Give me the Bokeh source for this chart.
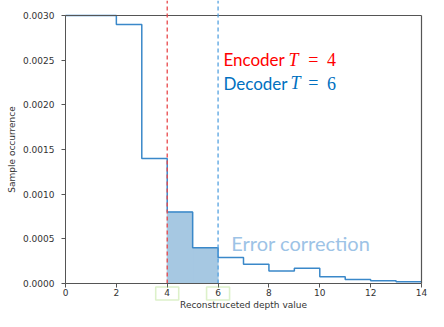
import numpy as np
from bokeh.plotting import figure
from bokeh.models import (Label, FixedTicker, PrintfTickFormatter, PolyAnnotation)
from bokeh.embed import file_html
from bokeh.resources import INLINE

# ---- data ----
bin_edges = [0, 1, 2, 3, 4, 5, 6, 7, 8, 9, 10, 11, 12, 13, 14]
occurrence = [0.0060, 0.0048, 0.0029, 0.0014, 0.0008, 0.0004, 0.00029,
              0.000215, 0.00014, 0.00017, 0.000075, 0.000045, 0.00003, 0.00002]
encoder_T = 4
decoder_T = 6
x_ticks = [0, 2, 4, 6, 8, 10, 12, 14]
y_ticks = [0.0, 0.0005, 0.0010, 0.0015, 0.0020, 0.0025, 0.0030]
x_axis_max = 14
y_axis_max = 0.0030

# ---- layout geometry (canvas pixels) ----
W, H = 428, 311
X_ZERO, X_MAX = 65, 421      # canvas columns of x = 0 and x = 14
Y_TOP_TICK, Y_ZERO = 15, 283 # canvas rows of y = 0.0030 and y = 0
px_per_x = (X_MAX - X_ZERO) / x_axis_max
px_per_y = (Y_ZERO - Y_TOP_TICK) / y_axis_max
x_view = (-X_ZERO / px_per_x, (W - X_ZERO) / px_per_x)
y_view = (-(H - Y_ZERO) / px_per_y, Y_ZERO / px_per_y)

p = figure(width=W, height=H, x_range=x_view, y_range=y_view,
           output_backend="svg", toolbar_location=None,
           min_border_left=0, min_border_right=0,
           min_border_top=0, min_border_bottom=0)
p.outline_line_color = None
p.grid.visible = False
p.background_fill_color = "white"

clipped = list(np.minimum(occurrence, y_axis_max))

i0 = bin_edges.index(encoder_T)
i1 = bin_edges.index(decoder_T)
p.quad(left=bin_edges[i0:i1], right=bin_edges[i0 + 1:i1 + 1], bottom=0,
       top=occurrence[i0:i1], fill_color="#a6c8e2", line_color="#a6c8e2", line_width=1)

p.step(x=bin_edges, y=clipped + [clipped[-1]], mode="after",
       line_color="#3a88c9", line_width=1.5)

# top / right spines
p.line(x=[0, x_axis_max], y=[y_axis_max, y_axis_max], line_color="#555555", line_width=1.2)
p.line(x=[x_axis_max, x_axis_max], y=[0, y_axis_max], line_color="#555555", line_width=1.2)

# threshold lines (from the x axis up through the top of the picture)
p.segment(x0=[encoder_T], y0=[0], x1=[encoder_T], y1=[y_view[1]],
          line_color="#e8474a", line_dash="4 3", line_width=1.3)
p.segment(x0=[decoder_T], y0=[0], x1=[decoder_T], y1=[y_view[1]],
          line_color="#55a2e0", line_dash="4 3", line_width=1.3)

for ax in (p.xaxis[0], p.yaxis[0]):
    ax.fixed_location = 0
    ax.axis_line_color = "#555555"
    ax.major_tick_line_color = "#555555"
    ax.minor_tick_line_color = None
    ax.major_tick_in = 0
    ax.major_tick_out = 4
    ax.major_label_text_font = "DejaVu Sans"
    ax.major_label_text_font_size = "9px"
    ax.major_label_text_color = "#333333"
    ax.axis_label_text_font = "DejaVu Sans"
    ax.axis_label_text_font_size = "9px"
    ax.axis_label_text_font_style = "normal"
    ax.axis_label_text_color = "#333333"

p.xaxis.ticker = FixedTicker(ticks=x_ticks)
p.xaxis.bounds = (0, x_axis_max)
p.xaxis.major_label_standoff = 1
p.xaxis.axis_label = "Reconstruceted depth value"
p.xaxis.axis_label_standoff = 1

p.yaxis.ticker = FixedTicker(ticks=y_ticks)
p.yaxis.formatter = PrintfTickFormatter(format="%.4f")
p.yaxis.bounds = (0, y_axis_max)
p.yaxis.major_label_standoff = 7
p.yaxis.axis_label = "Sample occurrence"
p.yaxis.axis_label_standoff = 3

# green boxes around the two threshold tick labels
bx = 11.5 / px_per_x
for t in (encoder_T, decoder_T):
    ytop, ybot = -3.5 / px_per_y, -16.5 / px_per_y
    p.add_layout(PolyAnnotation(xs=[t - bx, t + bx, t + bx, t - bx],
                                ys=[ytop, ytop, ybot, ybot],
                                xs_units="data", ys_units="data",
                                fill_color=None, fill_alpha=0,
                                line_color="#8fd14f", line_width=1.6))

# annotations (positions in data units)
x_text = 6.21
rows = [("Encoder", "4", "#ff0000", 0.002505, 65),
        ("Decoder", "6", "#0070c0", 0.00224, 67)]
for word, num, col, yv, toff in rows:
    p.add_layout(Label(x=x_text, y=yv, text=word, text_align="left", text_baseline="middle",
                       text_font="Lato", text_font_size="17px", text_color=col))
    p.add_layout(Label(x=x_text, y=yv, x_offset=toff, text="T", text_align="left",
                       text_baseline="middle", text_font="Liberation Serif",
                       text_font_style="italic", text_font_size="18px", text_color=col))
    p.add_layout(Label(x=x_text, y=yv, x_offset=90, text="=", text_align="center",
                       text_baseline="middle", text_font="Liberation Serif",
                       text_font_size="18px", text_color=col))
    p.add_layout(Label(x=x_text, y=yv, x_offset=108, text=num, text_align="center",
                       text_baseline="middle", text_font="Liberation Serif",
                       text_font_size="18px", text_color=col))

p.add_layout(Label(x=6.52, y=0.000456, text="Error correction", text_align="left",
                   text_baseline="middle", text_font="Lato", text_font_size="20px",
                   text_color="#9dc3e6"))

open("out.html", "w").write(file_html(p, INLINE))
